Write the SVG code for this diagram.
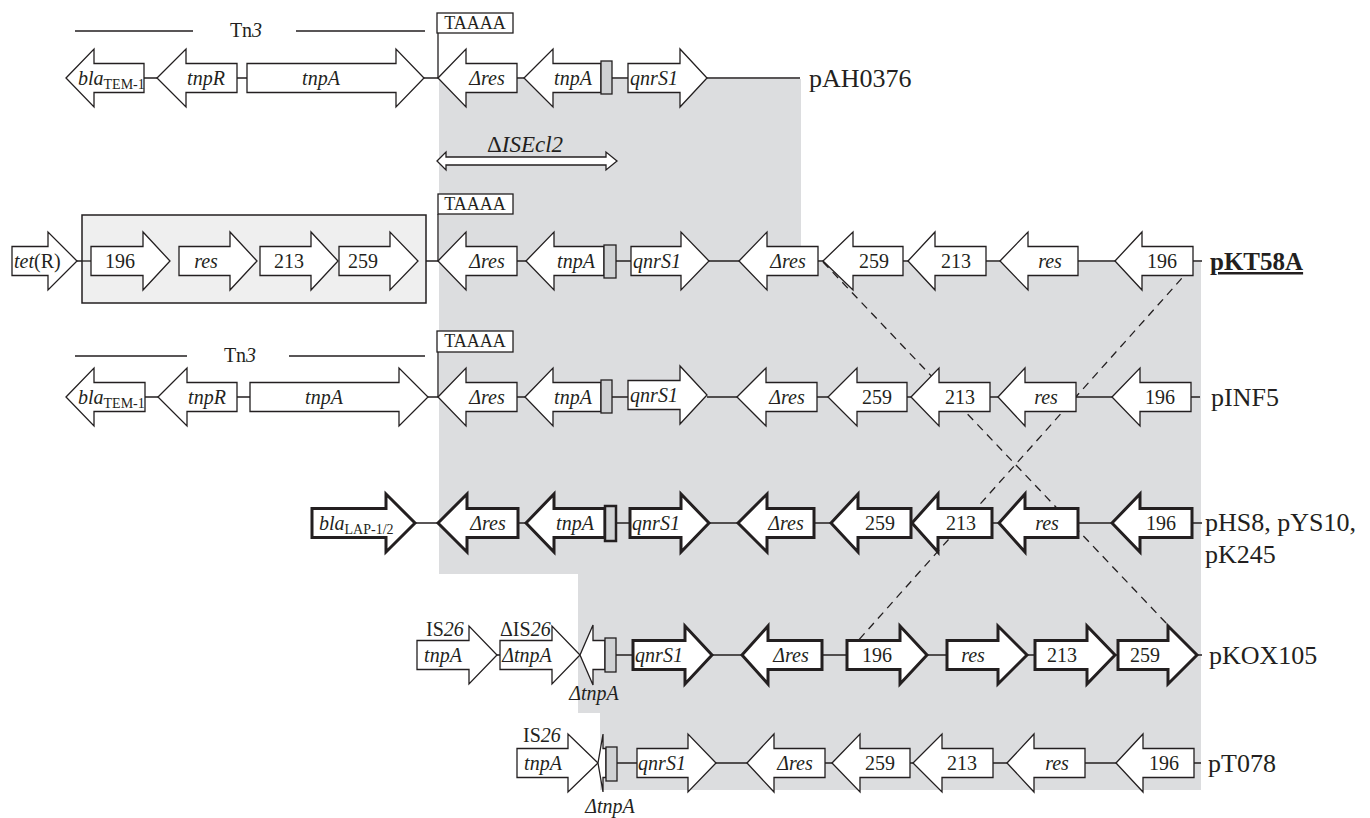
<svg xmlns="http://www.w3.org/2000/svg" width="1370" height="818" viewBox="0 0 1370 818">
<style>
.g{fill:#fff;stroke:#231f20;stroke-width:1.3}
.b{fill:#fff;stroke:#231f20;stroke-width:3}
.ln{stroke:#231f20;stroke-width:1.3;fill:none}
.t{font-family:"Liberation Serif","Times New Roman",serif;font-size:20px;fill:#231f20;text-anchor:middle}
.s{text-anchor:start}
.i{font-style:italic}
.sm{font-size:14px;font-style:normal}
.pl{font-family:"Liberation Serif","Times New Roman",serif;font-size:26px;fill:#231f20}
.ir{fill:#cfd1d3;stroke:#231f20;stroke-width:1.3}
.dash{stroke:#231f20;stroke-width:1.3;stroke-dasharray:8 6;fill:none}
</style>
<rect width="1370" height="818" fill="#fff"/>
<polygon id="shade" points="439,79 801,79 801,262 1201,262 1201,790 600,790 600,713 578,713 578,574 439,574" fill="#dcdddf"/>

<g id="connectors">
<path class="ln" d="M144 78H157M237 78H247M424 78H438M517 78H524M612 78H628M707 78H800M438 33V78"/>
<path class="ln" d="M75 31H193M296 31H425"/>
<path class="ln" d="M77 261H91M170 261H179M257 261H260M338 261H339M418 261H438M517 261H526M616 261H631M709 261H739M818 261H823M903 261H908M986 261H1000M1078 261H1115M1193 261H1202M438 214V261"/>
<path class="ln" d="M75 356H187M289 356H425"/>
<path class="ln" d="M145 397H158M237 397H250M428 397H438M517 397H525M612 397H628M707 397H737M817 397H828M907 397H911M990 397H998M1076 397H1112M1191 397H1200M438 352V397"/>
<path class="ln" d="M415 523H438M518 523H526M616 523H630M709 523H738M814 523H831M911 523H912M992 523H999M1078 523H1112M1192 523H1202"/>
<path class="ln" d="M497 655H500M616 655H633M712 655H742M822 655H847M927 655H947M1027 655H1035M1115 655H1118M1197 655H1202"/>
<path class="ln" d="M617 763H637M716 763H747M825 763H832M910 763H913M993 763H1007M1085 763H1116M1194 763H1201"/>
<path class="dash" d="M823 262L1167 624"/>
<path class="dash" d="M1191 268L848 652"/>
</g>

<g id="tn3-top"><text class="t" x="246" y="37">Tn<tspan class="i">3</tspan></text></g>
<g id="tn3-mid"><text class="t" x="240" y="362">Tn<tspan class="i">3</tspan></text></g>

<!-- Row 1 pAH0376 -->
<g id="r1-bla"><polygon class="g" points="66,78 94,49 94,63.5 144,63.5 144,92.5 94,92.5 94,107"/><text class="t s i" x="78" y="85">bla<tspan class="sm" dy="4">TEM-1</tspan></text></g>
<g id="r1-tnpR"><polygon class="g" points="157,78 186,49 186,63.5 237,63.5 237,92.5 186,92.5 186,107"/><text class="t i" x="206" y="85">tnpR</text></g>
<g id="r1-tnpA"><polygon class="g" points="247,63.5 396,63.5 396,49 424,78 396,107 396,92.5 247,92.5"/><text class="t i" x="321" y="85">tnpA</text></g>
<g id="r1-taaaa"><rect class="g" x="437" y="13" width="76" height="20"/><text class="t" x="475" y="29" style="font-size:18px">TAAAA</text></g>
<g id="r1-dres"><polygon class="g" points="438,78 466,49 466,63.5 517,63.5 517,92.5 466,92.5 466,107"/><text class="t i" x="487" y="85">Δres</text></g>
<g id="r1-tnpA2"><polygon class="g" points="524,78 553,49 553,63.5 601,63.5 601,92.5 553,92.5 553,107"/><text class="t i" x="573" y="85">tnpA</text><rect class="ir" x="601" y="61" width="11" height="33"/></g>
<g id="r1-qnr"><polygon class="g" points="628,63.5 680,63.5 680,49 707,78 680,107 680,92.5 628,92.5"/><text class="t i" x="654" y="85">qnrS1</text></g>
<g id="r1-label"><text class="pl" x="809" y="87">pAH0376</text></g>

<g id="isecl2"><polygon class="g" points="437,161 446,152 446,157 606,157 606,152 617,161 606,170 606,165 446,165 446,170"/><text class="t s" x="487" y="152" style="font-size:23px">Δ<tspan class="i">ISEcl2</tspan></text></g>

<!-- Row 2 pKT58A -->
<g id="r2-tet"><polygon class="g" points="12,246.5 48,246.5 48,232 77,261 48,290 48,275.5 12,275.5"/><text class="t s" x="14" y="268"><tspan class="i">tet</tspan>(R)</text></g>
<g id="r2-box"><rect x="82" y="215" width="344" height="88" fill="#efefef" stroke="#231f20" stroke-width="1.5"/><path class="ln" d="M82 261H91"/></g>
<g id="r2-196a"><polygon class="g" points="91,246.5 143,246.5 143,232 170,261 143,290 143,275.5 91,275.5"/><text class="t" x="120" y="268">196</text></g>
<g id="r2-resa"><polygon class="g" points="179,246.5 230,246.5 230,232 257,261 230,290 230,275.5 179,275.5"/><text class="t i" x="206" y="268">res</text></g>
<g id="r2-213a"><polygon class="g" points="260,246.5 311,246.5 311,232 338,261 311,290 311,275.5 260,275.5"/><text class="t" x="289" y="268">213</text></g>
<g id="r2-259a"><polygon class="g" points="339,246.5 390,246.5 390,232 418,261 390,290 390,275.5 339,275.5"/><text class="t" x="363" y="268">259</text></g>
<g id="r2-taaaa"><rect class="g" x="438" y="194" width="75" height="20"/><text class="t" x="475" y="210" style="font-size:18px">TAAAA</text></g>
<g id="r2-dres"><polygon class="g" points="438,261 466,232 466,246.5 517,246.5 517,275.5 466,275.5 466,290"/><text class="t i" x="487" y="268">Δres</text></g>
<g id="r2-tnpA"><polygon class="g" points="526,261 554,232 554,246.5 604,246.5 604,275.5 554,275.5 554,290"/><text class="t i" x="576" y="268">tnpA</text><rect class="ir" x="604" y="245" width="12" height="33"/></g>
<g id="r2-qnr"><polygon class="g" points="631,246.5 681,246.5 681,232 709,261 681,290 681,275.5 631,275.5"/><text class="t i" x="657" y="268">qnrS1</text></g>
<g id="r2-dres2"><polygon class="g" points="739,261 767,232 767,246.5 818,246.5 818,275.5 767,275.5 767,290"/><text class="t i" x="788" y="268">Δres</text></g>
<g id="r2-259"><polygon class="g" points="823,261 853,232 853,246.5 903,246.5 903,275.5 853,275.5 853,290"/><text class="t" x="874" y="268">259</text></g>
<g id="r2-213"><polygon class="g" points="908,261 935,232 935,246.5 986,246.5 986,275.5 935,275.5 935,290"/><text class="t" x="956" y="268">213</text></g>
<g id="r2-res"><polygon class="g" points="1000,261 1028,232 1028,246.5 1078,246.5 1078,275.5 1028,275.5 1028,290"/><text class="t i" x="1050" y="268">res</text></g>
<g id="r2-196"><polygon class="g" points="1115,261 1142,232 1142,246.5 1193,246.5 1193,275.5 1142,275.5 1142,290"/><text class="t" x="1162" y="268">196</text></g>
<g id="r2-label"><text class="pl" x="1210" y="270" font-weight="bold" text-decoration="underline" style="font-size:25px">pKT58A</text></g>

<!-- Row 3 pINF5 -->
<g id="r3-bla"><polygon class="g" points="66,397 94,368 94,382.5 145,382.5 145,411.5 94,411.5 94,426"/><text class="t s i" x="78" y="404">bla<tspan class="sm" dy="4">TEM-1</tspan></text></g>
<g id="r3-tnpR"><polygon class="g" points="158,397 187,368 187,382.5 237,382.5 237,411.5 187,411.5 187,426"/><text class="t i" x="207" y="404">tnpR</text></g>
<g id="r3-tnpA"><polygon class="g" points="250,382.5 399,382.5 399,368 428,397 399,426 399,411.5 250,411.5"/><text class="t i" x="324" y="404">tnpA</text></g>
<g id="r3-taaaa"><rect class="g" x="437" y="331" width="76" height="21"/><text class="t" x="475" y="347" style="font-size:18px">TAAAA</text></g>
<g id="r3-dres"><polygon class="g" points="438,397 466,368 466,382.5 517,382.5 517,411.5 466,411.5 466,426"/><text class="t i" x="487" y="404">Δres</text></g>
<g id="r3-tnpA2"><polygon class="g" points="525,397 553,368 553,382.5 601,382.5 601,411.5 553,411.5 553,426"/><text class="t i" x="573" y="404">tnpA</text><rect class="ir" x="601" y="380" width="11" height="33"/></g>
<g id="r3-qnr"><polygon class="g" points="628,380.5 680,380.5 680,366 707,395 680,424 680,409.5 628,409.5"/><text class="t i" x="654" y="402">qnrS1</text></g>
<g id="r3-dres2"><polygon class="g" points="737,397 766,368 766,382.5 817,382.5 817,411.5 766,411.5 766,426"/><text class="t i" x="787" y="404">Δres</text></g>
<g id="r3-259"><polygon class="g" points="828,397 857,368 857,382.5 907,382.5 907,411.5 857,411.5 857,426"/><text class="t" x="877" y="404">259</text></g>
<g id="r3-213"><polygon class="g" points="911,397 939,368 939,382.5 990,382.5 990,411.5 939,411.5 939,426"/><text class="t" x="960" y="404">213</text></g>
<g id="r3-res"><polygon class="g" points="998,397 1025,368 1025,382.5 1076,382.5 1076,411.5 1025,411.5 1025,426"/><text class="t i" x="1046" y="404">res</text></g>
<g id="r3-196"><polygon class="g" points="1112,397 1140,368 1140,382.5 1191,382.5 1191,411.5 1140,411.5 1140,426"/><text class="t" x="1160" y="404">196</text></g>
<g id="r3-label"><text class="pl" x="1211" y="406">pINF5</text></g>

<!-- Row 4 pHS8 -->
<g id="r4-bla"><polygon class="b" points="312,508.5 386,508.5 386,494 415,523 386,552 386,537.5 312,537.5"/><text class="t s i" x="319" y="530">bla<tspan class="sm" dy="4">LAP-1/2</tspan></text></g>
<g id="r4-dres"><polygon class="b" points="438,523 467,494 467,508.5 518,508.5 518,537.5 467,537.5 467,552"/><text class="t i" x="488" y="530">Δres</text></g>
<g id="r4-tnpA"><polygon class="b" points="526,523 554,494 554,508.5 605,508.5 605,537.5 554,537.5 554,552"/><text class="t i" x="575" y="530">tnpA</text><rect x="605" y="506" width="11" height="35" fill="#cfd1d3" stroke="#231f20" stroke-width="2.5"/></g>
<g id="r4-qnr"><polygon class="b" points="630,508.5 681,508.5 681,494 709,523 681,552 681,537.5 630,537.5"/><text class="t i" x="656" y="530">qnrS1</text></g>
<g id="r4-dres2"><polygon class="b" points="738,523 767,494 767,508.5 814,508.5 814,537.5 767,537.5 767,552"/><text class="t i" x="786" y="530">Δres</text></g>
<g id="r4-259"><polygon class="b" points="831,523 858,494 858,508.5 911,508.5 911,537.5 858,537.5 858,552"/><text class="t" x="880" y="530">259</text></g>
<g id="r4-213"><polygon class="b" points="912,523 938,494 938,508.5 992,508.5 992,537.5 938,537.5 938,552"/><text class="t" x="961" y="530">213</text></g>
<g id="r4-res"><polygon class="b" points="999,523 1025,494 1025,508.5 1078,508.5 1078,537.5 1025,537.5 1025,552"/><text class="t i" x="1047" y="530">res</text></g>
<g id="r4-196"><polygon class="b" points="1112,523 1140,494 1140,508.5 1192,508.5 1192,537.5 1140,537.5 1140,552"/><text class="t" x="1161" y="530">196</text></g>
<g id="r4-label"><text class="pl" x="1205" y="531">pHS8, pYS10,</text><text class="pl" x="1205" y="563">pK245</text></g>

<!-- Row 5 pKOX105 -->
<g id="r5-is26"><polygon class="g" points="417,640.5 469,640.5 469,626 497,655 469,684 469,669.5 417,669.5"/><text class="t i" x="443" y="662">tnpA</text><text class="t s" x="426" y="636">IS<tspan class="i">26</tspan></text></g>
<g id="r5-dis26"><polygon class="g" points="500,640.5 552,640.5 552,626 580,655 552,684 552,669.5 500,669.5"/><text class="t i" x="527" y="662">ΔtnpA</text><text class="t s" x="500" y="636">ΔIS<tspan class="i">26</tspan></text></g>
<g id="r5-trunc"><path class="g" d="M605 640.5H593V625L580 655L593 685V669.5H605Z"/><rect class="ir" x="605" y="638" width="11" height="34"/><text class="t i" x="594" y="700">ΔtnpA</text></g>
<g id="r5-qnr"><polygon class="b" points="633,640.5 685,640.5 685,626 712,655 685,684 685,669.5 633,669.5"/><text class="t i" x="659" y="662">qnrS1</text></g>
<g id="r5-dres"><polygon class="b" points="742,655 768,626 768,640.5 822,640.5 822,669.5 768,669.5 768,684"/><text class="t i" x="791" y="662">Δres</text></g>
<g id="r5-196"><polygon class="b" points="847,640.5 900,640.5 900,626 927,655 900,684 900,669.5 847,669.5"/><text class="t" x="877" y="662">196</text></g>
<g id="r5-res"><polygon class="b" points="947,640.5 998,640.5 998,626 1027,655 998,684 998,669.5 947,669.5"/><text class="t i" x="973" y="662">res</text></g>
<g id="r5-213"><polygon class="b" points="1035,640.5 1087,640.5 1087,626 1115,655 1087,684 1087,669.5 1035,669.5"/><text class="t" x="1062" y="662">213</text></g>
<g id="r5-259"><polygon class="b" points="1118,640.5 1168,640.5 1168,626 1197,655 1168,684 1168,669.5 1118,669.5"/><text class="t" x="1145" y="662">259</text></g>
<g id="r5-label"><text class="pl" x="1209" y="664">pKOX105</text></g>

<!-- Row 6 pT078 -->
<g id="r6-is26"><polygon class="g" points="517,748.5 568,748.5 568,734 598,763 568,792 568,777.5 517,777.5"/><text class="t i" x="543" y="770">tnpA</text><text class="t s" x="523" y="742">IS<tspan class="i">26</tspan></text></g>
<g id="r6-trunc"><path class="g" d="M606 748.5H603V734L598 763L603 792V777.5H606Z" stroke-width="1.8"/><rect class="ir" x="606" y="747" width="11" height="34"/><text class="t i" x="610" y="813">ΔtnpA</text></g>
<g id="r6-qnr"><polygon class="g" points="637,748.5 688,748.5 688,734 716,763 688,792 688,777.5 637,777.5"/><text class="t i" x="662" y="770">qnrS1</text></g>
<g id="r6-dres"><polygon class="g" points="747,763 774,734 774,748.5 825,748.5 825,777.5 774,777.5 774,792"/><text class="t i" x="795" y="770">Δres</text></g>
<g id="r6-259"><polygon class="g" points="832,763 860,734 860,748.5 910,748.5 910,777.5 860,777.5 860,792"/><text class="t" x="880" y="770">259</text></g>
<g id="r6-213"><polygon class="g" points="913,763 942,734 942,748.5 993,748.5 993,777.5 942,777.5 942,792"/><text class="t" x="962" y="770">213</text></g>
<g id="r6-res"><polygon class="g" points="1007,763 1034,734 1034,748.5 1085,748.5 1085,777.5 1034,777.5 1034,792"/><text class="t i" x="1057" y="770">res</text></g>
<g id="r6-196"><polygon class="g" points="1116,763 1143,734 1143,748.5 1194,748.5 1194,777.5 1143,777.5 1143,792"/><text class="t" x="1164" y="770">196</text></g>
<g id="r6-label"><text class="pl" x="1208" y="772">pT078</text></g>
</svg>
